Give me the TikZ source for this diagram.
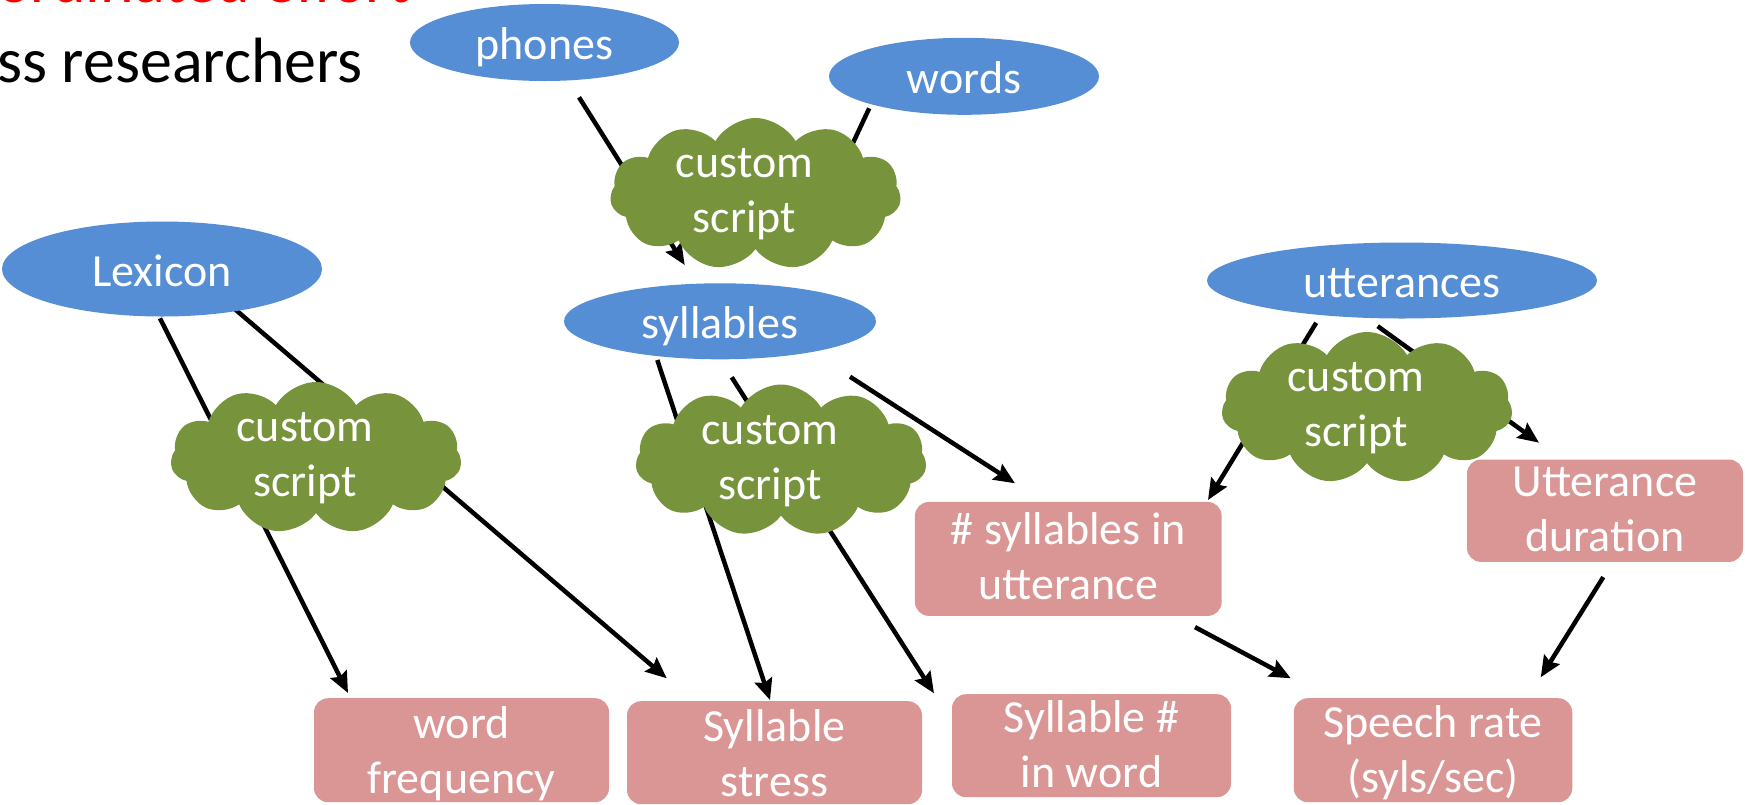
\documentclass[tikz,border=0pt]{standalone}
\usepackage{fontspec}
\setmainfont{Carlito}
\usetikzlibrary{shapes.geometric,shapes.symbols,arrows.meta,calc}
\definecolor{ovalblue}{HTML}{558ED5}
\definecolor{cloudgreen}{HTML}{77933C}
\definecolor{boxpink}{HTML}{D99694}
\pgfdeclarelayer{bg}
\pgfsetlayers{bg,main}
\newcommand{\twolines}[2]{\begin{tabular}[t]{@{}c@{}}#1\\#2\end{tabular}}
\newcommand{\customscript}{\hspace*{-22pt}\twolines{custom}{script}}
\tikzset{
  diafont/.style={font=\fontsize{46}{55}\selectfont},
  oval/.style={ellipse, fill=ovalblue, text=white, inner sep=0pt, diafont,
    text height=34pt, text depth=0pt},
  puff/.style={cloud, cloud puffs=11, cloud puff arc=120, aspect=1.8, fill=cloudgreen,
    text=white, inner sep=0pt, minimum width=291pt, minimum height=152pt,
    diafont, text height=0pt, text depth=33pt},
  resultbox/.style={rectangle, rounded corners=14pt, fill=boxpink, text=white,
    inner sep=0pt, anchor=north, diafont},
  link/.style={line width=4.5pt, -{Stealth[length=21pt,width=18pt,inset=3pt]}},
  titletext/.style={anchor=base east, inner sep=0pt, font=\fontsize{64}{77}\selectfont},
}
\begin{document}
\begin{tikzpicture}[x=1pt,y=-1pt]
\useasboundingbox (0,0) rectangle (1745,804);
\clip (0,0) rectangle (1745,804);

% title fragments
\node[titletext, text=red] (title1) at (410,2) {Uncoordinated effort};
\node[titletext] (title2) at (363,82) {across researchers};

% sources
\node[oval, minimum width=269pt, minimum height=77pt] (phones) at (544.5,42.5) {phones};
\node[oval, minimum width=270pt, minimum height=77pt] (words) at (964,76.3) {words};
\node[oval, minimum width=320pt, minimum height=95pt] (lexicon) at (162,269) {Lexicon};
\node[oval, minimum width=312pt, minimum height=76pt] (syllables) at (720,321.3) {syllables};
\node[oval, minimum width=390pt, minimum height=76pt] (utterances) at (1402,280.5) {utterances};

% scripts
\node[puff] (c1) at (755.5,194) {\customscript};
\node[puff] (c2) at (316,458) {\customscript};
\node[puff] (c3) at (781,460.5) {\customscript};
\node[puff] (c4) at (1367,408) {\customscript};

% results
\node[resultbox, minimum width=295pt, text height=40pt, text depth=64pt] (wordfreq) at (461.5,698) {\twolines{word}{frequency}};
\node[resultbox, minimum width=295pt, text height=40pt, text depth=63pt] (sylstress) at (774.5,701) {\twolines{Syllable}{stress}};
\node[resultbox, minimum width=279pt, text height=38pt, text depth=65pt] (sylnum) at (1091.5,694) {\twolines{Syllable \#}{in word}};
\node[resultbox, minimum width=278.5pt, text height=39pt, text depth=65pt] (rate) at (1433,698) {\twolines{Speech rate}{(syls/sec)}};
\node[resultbox, minimum width=306.7pt, text height=43pt, text depth=71pt] (sylutt) at (1068.3,501.7) {\twolines{\# syllables in}{utterance}};
\node[resultbox, minimum width=276pt, text height=37.4pt, text depth=65pt] (uttdur) at (1605,459.3) {\twolines{Utterance}{duration}};

\begin{pgfonlayer}{bg}
\draw[link] ([shift={(34.5,54.8)}]phones.center) -- ([shift={(-35.3,-56.3)}]syllables.center);
\draw[link] ([shift={(-94.8,32)}]words.center) -- ([shift={(75.8,-56.3)}]syllables.center);
\draw[link] ([shift={(-2,49.3)}]lexicon.center) -- ([shift={(-113.5,-5)}]wordfreq.north);
\draw[link] ([shift={(63,31.7)}]lexicon.center) -- ([shift={(-107.7,-22.7)}]sylstress.north);
\draw[link] ([shift={(-62.7,38.7)}]syllables.center) -- ([shift={(-4.5,-1)}]sylstress.north);
\draw[link] ([shift={(11.7,56)}]syllables.center) -- ([shift={(-157.5,-0.7)}]sylnum.north);
\draw[link] ([shift={(130,55.4)}]syllables.center) -- ([shift={(-53.3,-18.4)}]sylutt.north);
\draw[link] ([shift={(-85.8,42.3)}]utterances.center) -- ([shift={(139.7,-1.7)}]sylutt.north);
\draw[link] ([shift={(-24.3,45.7)}]utterances.center) -- ([shift={(-66,-16.6)}]uttdur.north);
\draw[link] ([shift={(126.7,11)}]sylutt.south) -- ([shift={(-142.2,-19.7)}]rate.north);
\draw[link] ([shift={(-1.7,15)}]uttdur.south) -- ([shift={(107.7,-20.7)}]rate.north);
\end{pgfonlayer}
\end{tikzpicture}
\end{document}
